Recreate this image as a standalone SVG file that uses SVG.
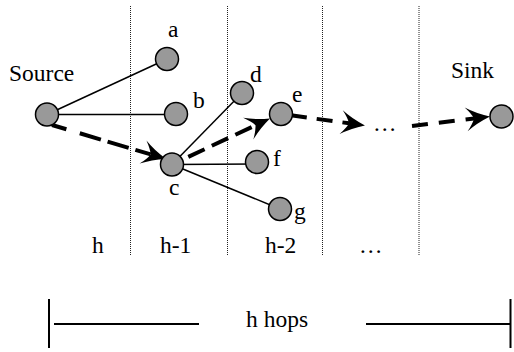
<svg xmlns="http://www.w3.org/2000/svg" width="514" height="352" viewBox="0 0 514 352">
<style>
text{font-family:'Liberation Serif','Times New Roman',serif;font-size:23.5px;fill:#000}
.dot{stroke:#222;stroke-width:1;stroke-dasharray:1 1;fill:none}
.edge{stroke:#000;stroke-width:1.5;fill:none}
.dash{stroke:#000;stroke-width:4;fill:none;marker-end:url(#ah)}
.node{fill:#999;stroke:#000;stroke-width:1.5}
.brk{stroke:#000;stroke-width:2;fill:none}
</style>
<defs>
<marker id="ah" markerUnits="userSpaceOnUse" viewBox="-10 -13 28 26" refX="0" refY="0" markerWidth="28" markerHeight="26" orient="auto" overflow="visible">
<path d="M16,0 Q2,-5 -8,-12 Q-2,-5 0,0 Q-2,5 -8,12 Q2,5 16,0 Z" fill="#000"/>
</marker>
</defs>
<g id="hop-lines">
<line class="dot" x1="130.5" y1="6" x2="130.5" y2="255"/>
<line class="dot" x1="227.5" y1="6" x2="227.5" y2="255"/>
<line class="dot" x1="322.5" y1="6" x2="322.5" y2="255"/>
<line class="dot" x1="419" y1="6" x2="419" y2="255"/>
</g>
<g id="connectors">
<line class="edge" x1="47" y1="114.5" x2="167" y2="59"/>
<line class="edge" x1="47" y1="114.5" x2="176" y2="114.5"/>
<line class="edge" x1="172" y1="164.5" x2="242" y2="93"/>
<line class="edge" x1="172" y1="164.5" x2="257" y2="164"/>
<line class="edge" x1="172" y1="164.5" x2="280" y2="209"/>
<path class="dash" d="M52,125 L150.7,154.4" stroke-dasharray="15 14 22 7 22 7 22 7"/>
<path class="dash" d="M172,164.5 L255.5,125.3" stroke-dasharray="18 8" stroke-dashoffset="8"/>
<path class="dash" d="M281,114 L349.1,123.3" stroke-dasharray="16 10" stroke-dashoffset="16"/>
<path class="dash" d="M412,126 L474.1,118.4" stroke-dasharray="16 11"/>
</g>
<g id="source"><circle class="node" cx="47" cy="114.5" r="11.5"/><text x="9" y="81">Source</text></g>
<g id="a"><circle class="node" cx="167" cy="59" r="11.5"/><text x="168" y="37">a</text></g>
<g id="b"><circle class="node" cx="176" cy="114" r="11.5"/><text x="193" y="108">b</text></g>
<g id="c"><circle class="node" cx="172" cy="164.5" r="11.5"/><text x="169" y="195">c</text></g>
<g id="d"><circle class="node" cx="242" cy="93" r="11.5"/><text x="250" y="82">d</text></g>
<g id="e"><circle class="node" cx="281" cy="114" r="11.5"/><text x="292" y="102">e</text></g>
<g id="f"><circle class="node" cx="257" cy="162" r="11.5"/><text x="273" y="166">f</text></g>
<g id="g"><circle class="node" cx="280" cy="209" r="11.5"/><text x="294" y="219">g</text></g>
<g id="ellipsis"><text x="373" y="131">…</text></g>
<g id="sink"><circle class="node" cx="501.5" cy="116.5" r="11.5"/><text x="451" y="78">Sink</text></g>
<g id="hop-labels">
<text x="92" y="253">h</text>
<text x="160" y="253">h-1</text>
<text x="265" y="253">h-2</text>
<text x="359" y="253">…</text>
</g>
<g id="scale">
<line class="brk" x1="49" y1="299" x2="49" y2="348"/>
<line class="brk" x1="510.5" y1="299" x2="510.5" y2="348"/>
<line class="brk" x1="54" y1="324" x2="199" y2="324"/>
<line class="brk" x1="366" y1="324" x2="510.5" y2="324"/>
<text x="246" y="327">h hops</text>
</g>
</svg>
